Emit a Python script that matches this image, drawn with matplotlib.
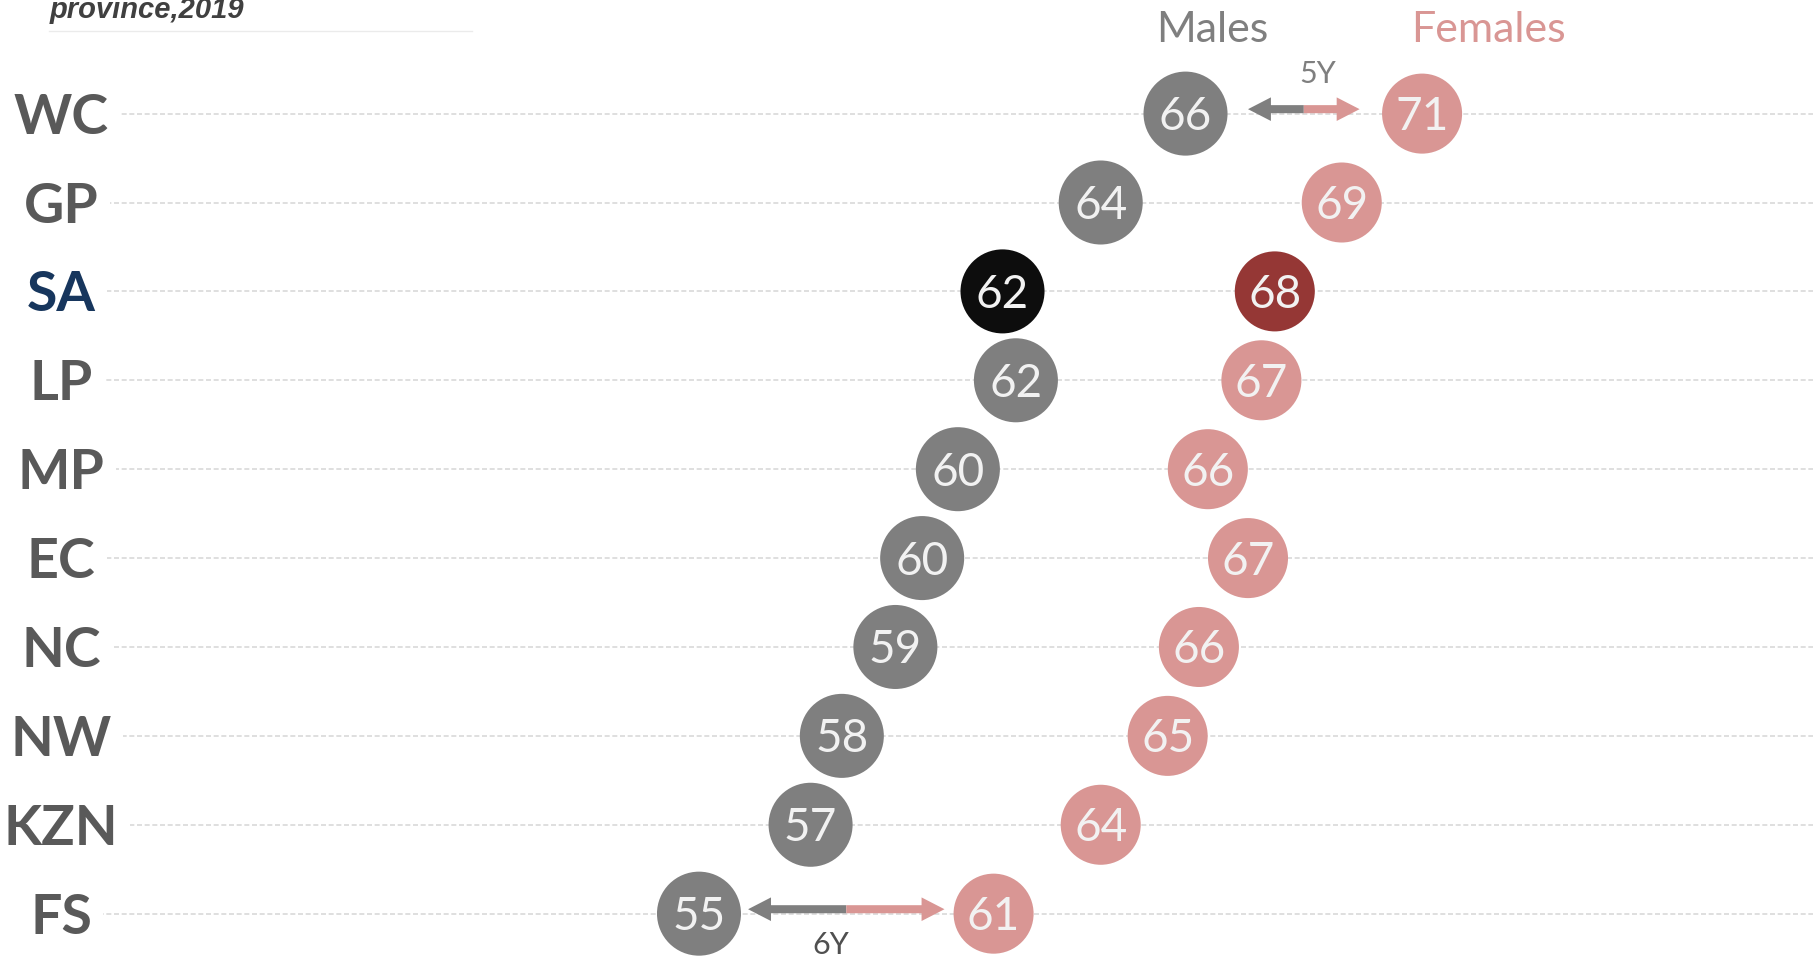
import matplotlib.pyplot as plt
from matplotlib.lines import Line2D
from matplotlib.patches import FancyArrowPatch, ArrowStyle


# ----------------------------------------------------------------
# Data: life expectancy at birth by province, 2019
# ----------------------------------------------------------------
provinces = ['WC', 'GP', 'SA', 'LP', 'MP', 'EC', 'NC', 'NW', 'KZN', 'FS']
males = [65.6, 63.7, 61.5, 61.8, 60.5, 59.7, 59.1, 57.9, 57.2, 54.7]
females = [70.9, 69.1, 67.6, 67.3, 66.1, 67.0, 65.9, 65.2, 63.7, 61.3]
highlight = 'SA'

# rows that get a gap arrow, with (gap to circle in years, text offset in points)
arrow_rows = ['WC', 'FS']
arrow_gaps = [1.4, 1.1]
arrow_text_offsets = [(10, 27), (-11, -24)]

# Colours
color_male = '#7f7f7f'
color_female = '#d99694'
color_male_hi = '#0d0d0d'
color_female_hi = '#953735'
color_label = '#595959'
color_label_hi = '#17365d'
color_grid = '#d9d9d9'
color_num = '#f2f2f2'

FONT = 'Lato'
W, H = 1818, 959

fig = plt.figure(figsize=(W / 100, H / 100), dpi=100)
ax = fig.add_axes([0, 0, 1, 1])
ax.axis('off')

rows = list(range(len(provinces)))

# Dashed guide lines
ax.hlines(rows, 0.05, 0.997, transform=ax.get_yaxis_transform(), colors=color_grid,
          lw=1.2, linestyles=(0, (3, 1.6)), zorder=1)

# Circles
m_cols = [color_male_hi if p == highlight else color_male for p in provinces]
f_cols = [color_female_hi if p == highlight else color_female for p in provinces]
ax.scatter(males, rows, s=3660, c=m_cols, linewidths=0, zorder=3)
ax.scatter(females, rows, s=3320, c=f_cols, linewidths=0, zorder=3)

# Numbers inside circles
num_size = 33
for i in rows:
  for v in (males[i], females[i]):
    ax.annotate('{:.0f}'.format(v), (v, i), xytext=(0, -0.36 * num_size), textcoords='offset points',
                ha='center', va='baseline', fontsize=num_size, family=FONT, color=color_num, zorder=4)

# Province labels
lab_size = 40
for i, p in enumerate(provinces):
  ax.annotate(p, (0.0336, i), xycoords=ax.get_yaxis_transform(), xytext=(0, -0.36 * lab_size),
              textcoords='offset points', ha='center', va='baseline', fontsize=lab_size,
              fontweight='bold', family=FONT, color=color_label_hi if p == highlight else color_label,
              bbox=dict(boxstyle='square,pad=0.2', fc='white', ec='none'), zorder=2)

# Gap arrows
style = ArrowStyle('Simple', head_length=16.5, head_width=17, tail_width=5.8)
for p, gap, (dx, dy) in zip(arrow_rows, arrow_gaps, arrow_text_offsets):
  i = provinces.index(p)
  y = i - 0.05
  left = males[i] + gap
  right = females[i] - gap
  mid = (left + right) / 2
  ax.add_patch(FancyArrowPatch((mid, y), (left, y), arrowstyle=style, mutation_scale=1,
                               shrinkA=0, shrinkB=0, color=color_male, lw=0, zorder=3))
  ax.add_patch(FancyArrowPatch((mid, y), (right, y), arrowstyle=style, mutation_scale=1,
                               shrinkA=0, shrinkB=0, color=color_female, lw=0, zorder=3))
  diff = round(females[i]) - round(males[i])
  ax.annotate('{}Y'.format(diff), (mid, y), xytext=(dx, dy - 8), textcoords='offset points',
              ha='center', va='baseline', fontsize=22, family=FONT,
              color=color_male if dy > 0 else '#505050')

ax.set_xlim(39.04, 79.77)
ax.set_ylim(9.51, -1.278)

# Header texts
fig.text(1212 / W, 1 - 42 / H, 'Males', ha='center', va='baseline', fontsize=31, family=FONT, color=color_male)
fig.text(1488 / W, 1 - 42 / H, 'Females', ha='center', va='baseline', fontsize=31, family=FONT, color=color_female)

# Title fragment and rule
fig.text(50 / W, 1 - 18 / H, 'province,2019', ha='left', va='baseline', fontsize=21, fontweight='bold',
         style='italic', family='Liberation Sans', color='#404040')
fig.add_artist(Line2D([49 / W, 472 / W], [1 - 31 / H, 1 - 31 / H], color='#ebebeb', lw=1))

fig.savefig('out.png', dpi=100)
